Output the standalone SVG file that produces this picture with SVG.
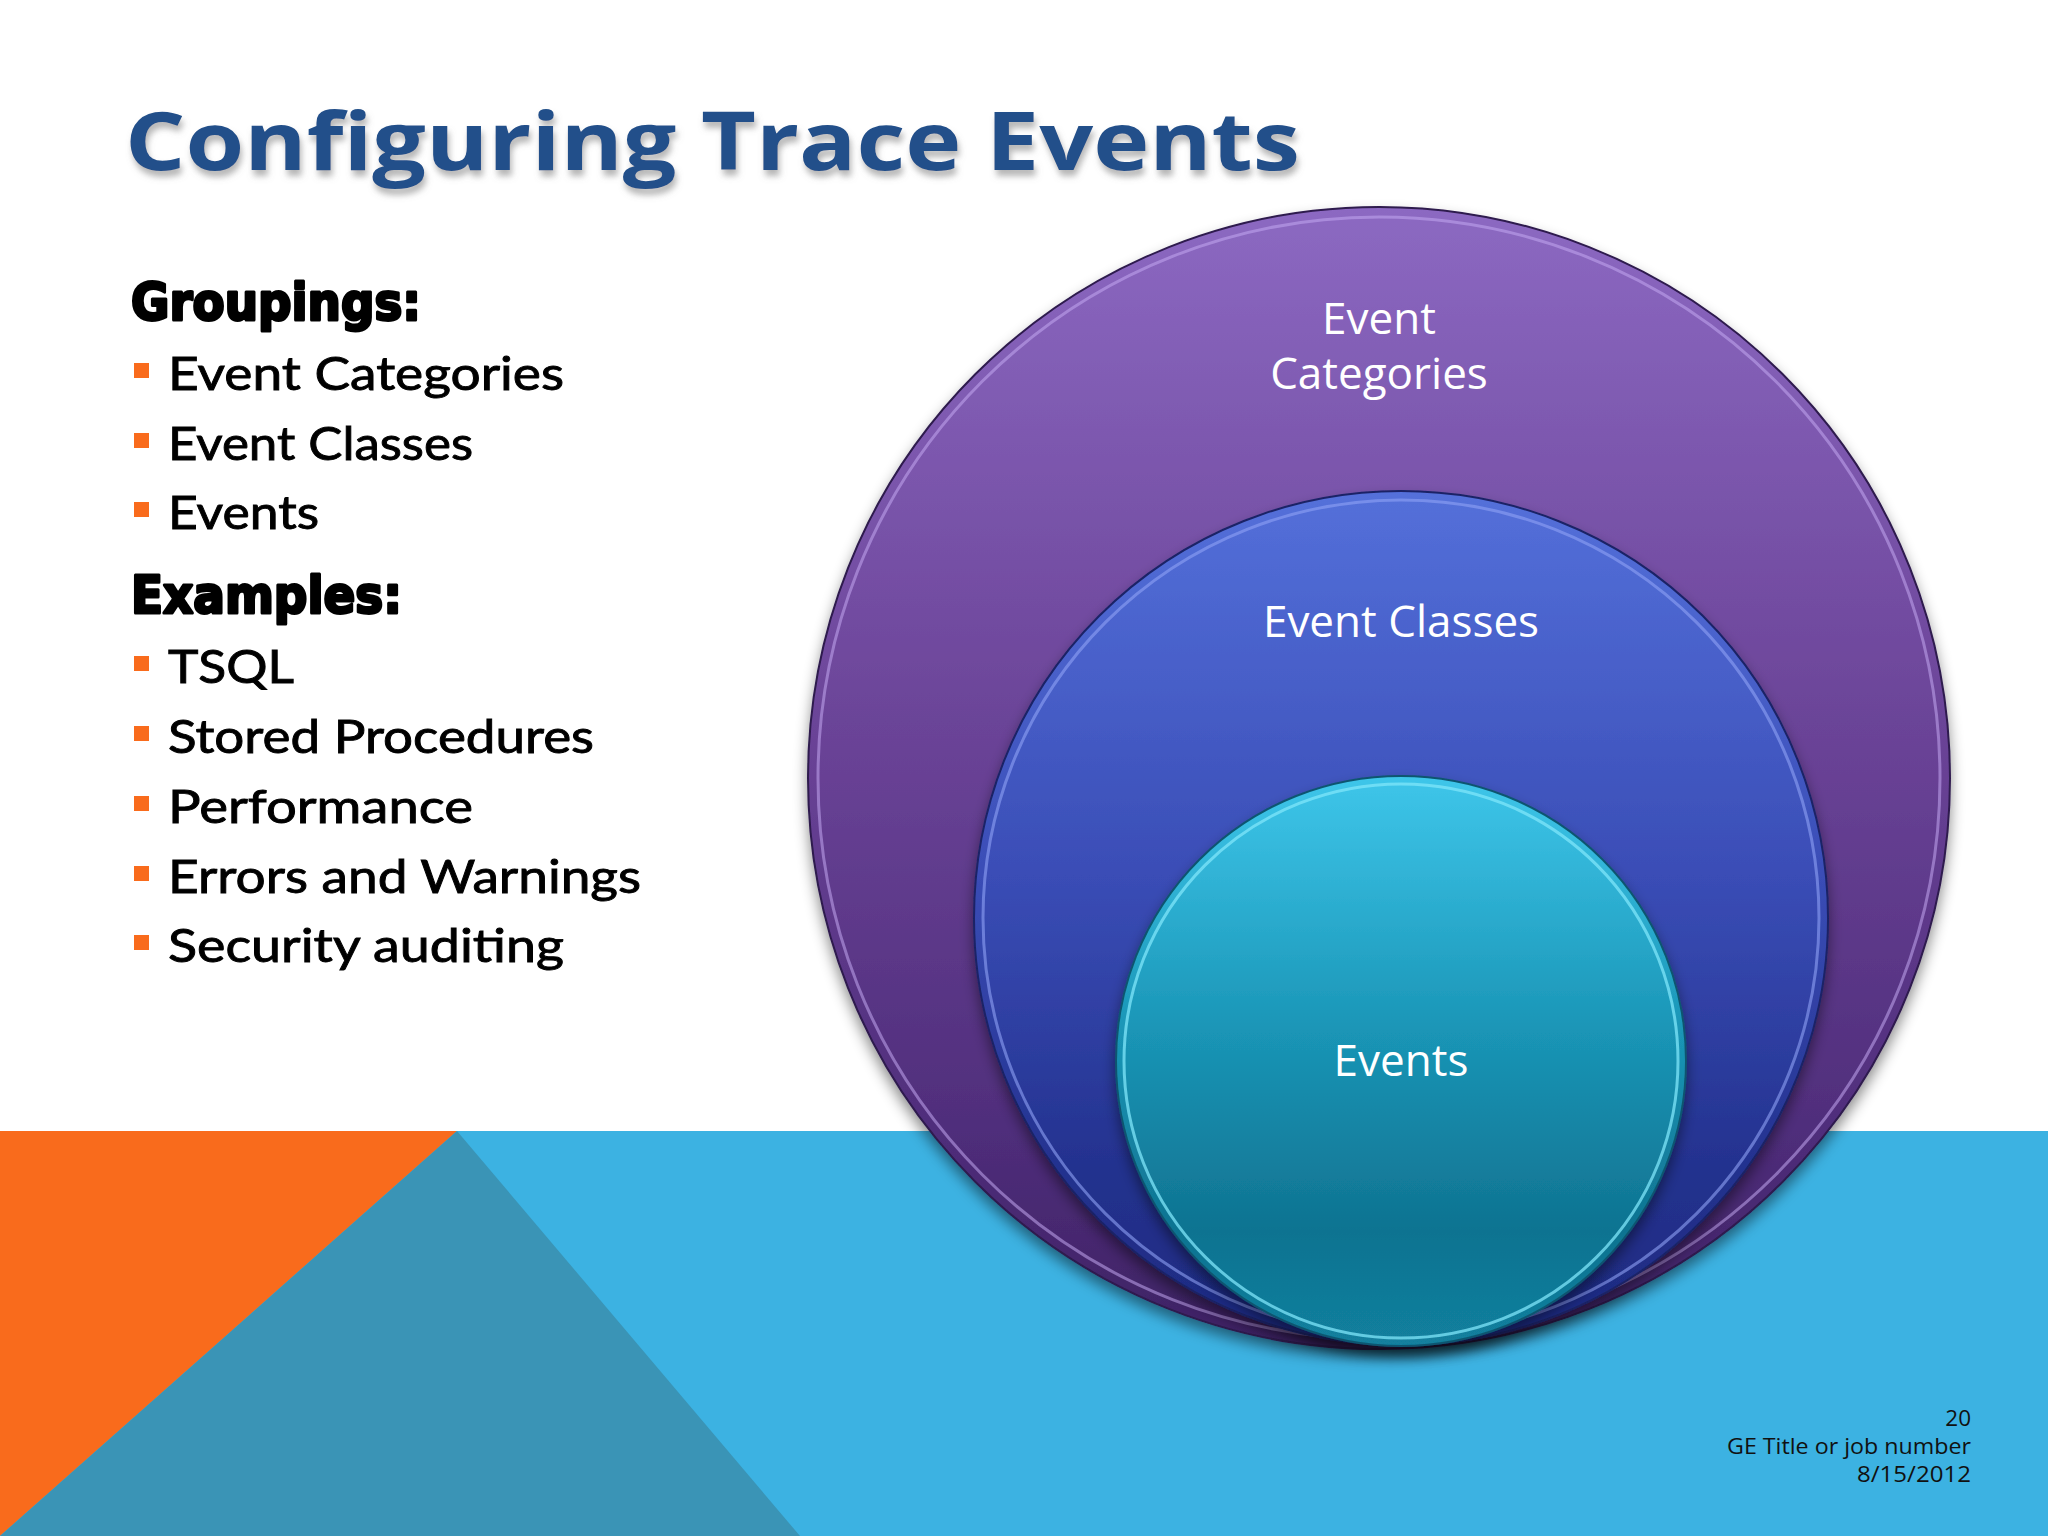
<svg xmlns="http://www.w3.org/2000/svg" width="2048" height="1536" viewBox="0 0 2048 1536">
<defs>
<style>
.title{font-family:"Open Sans","Liberation Sans",sans-serif;font-weight:700;font-size:81px;fill:#23508A}
.head{font-family:"DejaVu Sans","Liberation Sans",sans-serif;font-weight:700;font-size:52px;fill:#000;stroke:#000;stroke-width:3;stroke-linejoin:round}
.item{font-family:"Lato","Noto Sans",sans-serif;font-size:47px;fill:#000;stroke:#000;stroke-width:0.9}
.bul{fill:#F96B1C}
.lbl{font-family:"Open Sans","Liberation Sans",sans-serif;font-size:44px;fill:#FFFFFF;text-anchor:middle}
.foot{font-family:"Open Sans","Liberation Sans",sans-serif;font-size:22.5px;fill:#111;text-anchor:end}
</style>
<linearGradient id="gBig" x1="0" y1="0" x2="0" y2="1">
<stop offset="0" stop-color="#8C69C2"/>
<stop offset="0.45" stop-color="#6B4498"/>
<stop offset="0.8" stop-color="#502E7C"/>
<stop offset="1" stop-color="#3D2263"/>
</linearGradient>
<linearGradient id="gMid" x1="0" y1="0" x2="0" y2="1">
<stop offset="0" stop-color="#5470DA"/>
<stop offset="0.45" stop-color="#3A4DB6"/>
<stop offset="0.8" stop-color="#23318E"/>
<stop offset="1" stop-color="#1D2A80"/>
</linearGradient>
<linearGradient id="gIn" x1="0" y1="0" x2="0" y2="1">
<stop offset="0" stop-color="#3EC6EA"/>
<stop offset="0.45" stop-color="#1A95B6"/>
<stop offset="0.8" stop-color="#0F7391"/>
<stop offset="1" stop-color="#12809E"/>
</linearGradient>
<filter id="shadow" x="-10%" y="-10%" width="120%" height="125%">
<feDropShadow dx="0" dy="8" stdDeviation="7" flood-color="#000" flood-opacity="0.45"/>
</filter>
<filter id="tshadow" x="-5%" y="-20%" width="110%" height="160%">
<feDropShadow dx="2" dy="6" stdDeviation="3" flood-color="#7A7A7A" flood-opacity="0.55"/>
</filter>
</defs>

<rect x="0" y="0" width="2048" height="1536" fill="#FFFFFF"/>
<rect x="0" y="1131" width="2048" height="405" fill="#3CB2E2"/>
<polygon points="0,1131 457,1131 0,1536" fill="#F96B1C"/>
<polygon points="457,1131 800,1536 0,1536" fill="#3A94B6"/>

<text class="title" x="125" y="170" textLength="1175" lengthAdjust="spacingAndGlyphs" filter="url(#tshadow)">Configuring Trace Events</text>

<g id="list">
<text class="head" x="131" y="320" textLength="290" lengthAdjust="spacingAndGlyphs">Groupings:</text>
<rect class="bul" x="134" y="363" width="15" height="15"/>
<text class="item" x="168" y="390" textLength="396" lengthAdjust="spacingAndGlyphs">Event Categories</text>
<rect class="bul" x="134" y="433" width="15" height="15"/>
<text class="item" x="168" y="460" textLength="305" lengthAdjust="spacingAndGlyphs">Event Classes</text>
<rect class="bul" x="134" y="502" width="15" height="15"/>
<text class="item" x="168" y="529" textLength="151" lengthAdjust="spacingAndGlyphs">Events</text>
<text class="head" x="131" y="613" textLength="271" lengthAdjust="spacingAndGlyphs">Examples:</text>
<rect class="bul" x="134" y="656" width="15" height="15"/>
<text class="item" x="168" y="683" textLength="126" lengthAdjust="spacingAndGlyphs">TSQL</text>
<rect class="bul" x="134" y="726" width="15" height="15"/>
<text class="item" x="168" y="753" textLength="426" lengthAdjust="spacingAndGlyphs">Stored Procedures</text>
<rect class="bul" x="134" y="796" width="15" height="15"/>
<text class="item" x="168" y="823" textLength="305" lengthAdjust="spacingAndGlyphs">Performance</text>
<rect class="bul" x="134" y="866" width="15" height="15"/>
<text class="item" x="168" y="893" textLength="473" lengthAdjust="spacingAndGlyphs">Errors and Warnings</text>
<rect class="bul" x="134" y="935" width="15" height="15"/>
<text class="item" x="168" y="962" textLength="396" lengthAdjust="spacingAndGlyphs">Security auditing</text>
</g>

<g id="node-categories">
<circle cx="1379" cy="778" r="571" fill="url(#gBig)" stroke="#2E1A4E" stroke-width="2" filter="url(#shadow)"/>
<circle cx="1379" cy="778" r="561" fill="none" stroke="#C2A8F0" stroke-width="3" opacity="0.55"/>
<text class="lbl" x="1379" y="334">Event</text>
<text class="lbl" x="1379" y="389">Categories</text>
</g>

<g id="node-classes">
<circle cx="1401" cy="918" r="427" fill="url(#gMid)" stroke="#1A2466" stroke-width="2" filter="url(#shadow)"/>
<circle cx="1401" cy="918" r="418" fill="none" stroke="#8FA2F5" stroke-width="3" opacity="0.6"/>
<text class="lbl" x="1401" y="637">Event Classes</text>
</g>

<g id="node-events">
<circle cx="1401" cy="1061" r="285" fill="url(#gIn)" stroke="#0E5570" stroke-width="2" filter="url(#shadow)"/>
<circle cx="1401" cy="1061" r="277" fill="none" stroke="#7FE6FA" stroke-width="3" opacity="0.75"/>
<text class="lbl" x="1401" y="1076">Events</text>
</g>

<g id="connectors"/>

<g id="footer">
<text class="foot" x="1971" y="1426">20</text>
<text class="foot" x="1971" y="1454" textLength="244" lengthAdjust="spacingAndGlyphs">GE Title or job number</text>
<text class="foot" x="1971" y="1482" textLength="114" lengthAdjust="spacingAndGlyphs">8/15/2012</text>
</g>
</svg>
